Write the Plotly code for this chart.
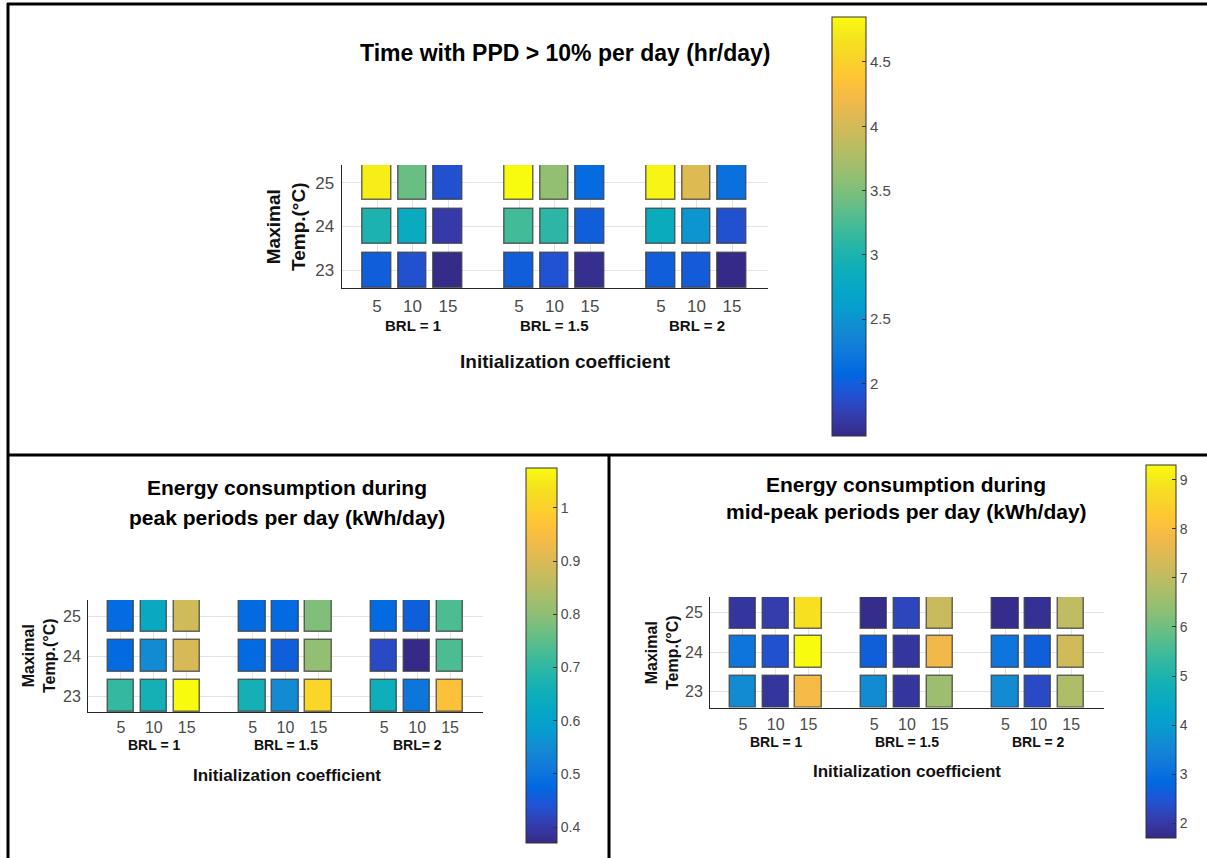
import plotly.graph_objects as go

W, H = 1207, 858

# ---------------- data ----------------
init_coeffs = ["5", "10", "15"]
max_temps = [23, 24, 25]
brl_labels_top = ["BRL = 1", "BRL = 1.5", "BRL = 2"]
brl_labels_peak = ["BRL = 1", "BRL = 1.5", "BRL= 2"]
brl_labels_mid = ["BRL = 1", "BRL = 1.5", "BRL = 2"]

# rows: temp 23, 24, 25 ; columns: (BRL1: 5,10,15), (BRL1.5: 5,10,15), (BRL2: 5,10,15)
ppd_t23 = [2.00, 1.90, 1.60, 2.00, 1.91, 1.63, 2.00, 1.98, 1.59]
ppd_t24 = [2.99, 2.80, 1.73, 3.22, 3.09, 2.00, 2.83, 2.52, 1.90]
ppd_t25 = [4.75, 3.40, 1.90, 4.85, 3.61, 2.11, 4.80, 4.07, 2.16]

peak_t23 = [0.706, 0.660, 1.075, 0.660, 0.550, 1.010, 0.650, 0.504, 0.962]
peak_t24 = [0.480, 0.550, 0.896, 0.480, 0.460, 0.807, 0.426, 0.370, 0.733]
peak_t25 = [0.482, 0.630, 0.885, 0.480, 0.480, 0.786, 0.480, 0.460, 0.733]

mid_t23 = [3.63, 1.93, 7.86, 3.63, 1.93, 6.53, 3.63, 2.30, 6.77]
mid_t24 = [3.14, 2.42, 9.30, 2.67, 1.93, 7.78, 3.14, 2.67, 7.25]
mid_t25 = [1.93, 2.08, 8.82, 1.75, 2.23, 7.13, 1.75, 1.82, 7.00]

ppd_range = [1.59, 4.85]
peak_range = [0.37, 1.075]
mid_range = [1.70, 9.30]

ppd_ticks = [2, 2.5, 3, 3.5, 4, 4.5]
peak_ticks = [0.4, 0.5, 0.6, 0.7, 0.8, 0.9, 1.0]
mid_ticks = [2, 3, 4, 5, 6, 7, 8, 9]

# parula colormap
parula_rgb = [
    (0.2081, 0.1663, 0.5292), (0.2081, 0.2386, 0.6771), (0.1253, 0.3242, 0.8303),
    (0.0060, 0.4086, 0.8828), (0.0629, 0.4737, 0.8554), (0.0749, 0.5375, 0.8263),
    (0.0265, 0.6137, 0.8135), (0.0228, 0.6535, 0.7768), (0.0590, 0.6838, 0.7254),
    (0.1453, 0.7098, 0.6646), (0.2586, 0.7317, 0.5954), (0.3953, 0.7459, 0.5244),
    (0.5300, 0.7491, 0.4661), (0.6473, 0.7456, 0.4188), (0.7525, 0.7384, 0.3768),
    (0.8507, 0.7299, 0.3360), (0.9450, 0.7261, 0.2886), (0.9990, 0.7653, 0.2164),
    (0.9789, 0.8271, 0.1633), (0.9589, 0.8949, 0.1132), (0.9763, 0.9831, 0.0538),
]
parula = [[i / (len(parula_rgb) - 1),
           "rgb(%d,%d,%d)" % tuple(round(c * 255) for c in rgb)] for i, rgb in enumerate(parula_rgb)]

FONT = "Liberation Sans, Arial, sans-serif"
TICK_COLOR = "#4a4a4a"


def px_x(px):
    return px / W


def px_y(py):
    return 1 - py / H


fig = go.Figure()

panels = [
    dict(rows=[ppd_t23, ppd_t24, ppd_t25], rng=ppd_range, ticks=ppd_ticks, brl=brl_labels_top,
         xdom=(341.5, 767.5), ydom=(165, 288), cb=(832, 17, 419, 34), tick_font=17, cb_font=15,
         standoff=3, brl_size=15,
         brl_y=325, init_y=361, init_x=565, init_size=19,
         title=[("Time with PPD > 10% per day (hr/day)", 565, 53)], title_size=23,
         ytitle=(286, 227), ytitle_size=19),
    dict(rows=[peak_t23, peak_t24, peak_t25], rng=peak_range, ticks=peak_ticks, brl=brl_labels_peak,
         xdom=(88, 483), ydom=(600, 712), cb=(526, 468, 375, 31), tick_font=16, cb_font=14,
         standoff=1, brl_size=14,
         brl_y=745, init_y=775, init_x=287, init_size=17,
         title=[("Energy consumption during", 287, 488), ("peak periods per day (kWh/day)", 287, 517)],
         title_size=21, ytitle=(39, 656), ytitle_size=16),
    dict(rows=[mid_t23, mid_t24, mid_t25], rng=mid_range, ticks=mid_ticks, brl=brl_labels_mid,
         xdom=(710, 1104), ydom=(597, 707.5), cb=(1146, 465, 373, 30), tick_font=16, cb_font=14,
         standoff=2, brl_size=14,
         brl_y=742, init_y=771, init_x=907, init_size=17,
         title=[("Energy consumption during", 906, 484), ("mid-peak periods per day (kWh/day)", 906, 511)],
         title_size=21, ytitle=(662, 653), ytitle_size=16),
]

annotations = []
layout_axes = {}

for k, p in enumerate(panels):
    sfx = "" if k == 0 else str(k + 1)
    xs, bases, vals = [], [], []
    for r, temp in enumerate(max_temps):
        for g in range(3):
            for c in range(3):
                xs.append(1 + 4 * g + c)
                bases.append(temp - 0.4)
                vals.append(p["rows"][r][3 * g + c])
    ca = "coloraxis" + sfx
    fig.add_trace(go.Bar(
        x=xs, y=[0.8] * len(xs), base=bases, width=0.8,
        marker=dict(color=vals, coloraxis=ca,
                    line=dict(color="rgba(60,60,60,0.75)", width=1.5)),
        xaxis="x" + sfx, yaxis="y" + sfx, showlegend=False,
        hovertemplate="%{marker.color}<extra></extra>",
    ))
    cbx, cby, cblen, cbth = p["cb"]
    layout_axes[ca] = dict(
        colorscale=parula, cmin=p["rng"][0], cmax=p["rng"][1],
        colorbar=dict(
            x=px_x(cbx), xanchor="left", y=px_y(cby), yanchor="top",
            len=cblen, lenmode="pixels", thickness=cbth, thicknessmode="pixels",
            xpad=0, ypad=0, outlinecolor="#333333", outlinewidth=1,
            tickvals=p["ticks"], ticks="inside", ticklen=4, tickcolor="#333333",
            tickfont=dict(family=FONT, size=p["cb_font"], color=TICK_COLOR),
        ),
    )
    tickpos = [1 + 4 * g + c for g in range(3) for c in range(3)]
    layout_axes["xaxis" + sfx] = dict(
        domain=[px_x(p["xdom"][0]), px_x(p["xdom"][1])], range=[0, 12],
        anchor="y" + sfx, tickvals=tickpos, ticktext=init_coeffs * 3,
        showgrid=True, gridcolor="#e3e3e3", gridwidth=1, zeroline=False,
        showline=True, linecolor="#262626", linewidth=1, ticks="",
        tickfont=dict(family=FONT, size=p["tick_font"], color=TICK_COLOR),
        ticklabelstandoff=p["standoff"], fixedrange=True,
    )
    layout_axes["yaxis" + sfx] = dict(
        domain=[px_y(p["ydom"][1]), px_y(p["ydom"][0])], range=[22.6, 25.4],
        anchor="x" + sfx, tickvals=max_temps,
        showgrid=True, gridcolor="#e3e3e3", gridwidth=1, zeroline=False,
        showline=True, linecolor="#262626", linewidth=1, ticks="",
        tickfont=dict(family=FONT, size=p["tick_font"], color=TICK_COLOR),
        ticklabelstandoff=3, fixedrange=True,
    )
    # BRL labels
    for g, lab in enumerate(p["brl"]):
        annotations.append(dict(
            text="<b>%s</b>" % lab, x=2 + 4 * g, xref="x" + sfx, y=px_y(p["brl_y"]), yref="paper",
            showarrow=False, xanchor="center", yanchor="middle",
            font=dict(family=FONT, size=p["brl_size"], color="#111111")))
    annotations.append(dict(
        text="<b>Initialization coefficient</b>", x=px_x(p["init_x"]), xref="paper",
        y=px_y(p["init_y"]), yref="paper", showarrow=False, xanchor="center", yanchor="middle",
        font=dict(family=FONT, size=p["init_size"], color="#111111")))
    for txt, tx, ty in p["title"]:
        annotations.append(dict(
            text="<b>%s</b>" % txt, x=px_x(tx), xref="paper", y=px_y(ty), yref="paper",
            showarrow=False, xanchor="center", yanchor="middle",
            font=dict(family=FONT, size=p["title_size"], color="#000000")))
    annotations.append(dict(
        text="<b>Maximal<br>Temp.(°C)</b>", x=px_x(p["ytitle"][0]), xref="paper",
        y=px_y(p["ytitle"][1]), yref="paper", showarrow=False, textangle=-90,
        xanchor="center", yanchor="middle",
        font=dict(family=FONT, size=p["ytitle_size"], color="#111111")))

border = dict(color="black", width=3)
shapes = [
    dict(type="line", xref="paper", yref="paper", x0=px_x(7), x1=1, y0=px_y(4), y1=px_y(4), line=border),
    dict(type="line", xref="paper", yref="paper", x0=px_x(8), x1=px_x(8), y0=px_y(3), y1=0, line=border),
    dict(type="line", xref="paper", yref="paper", x0=px_x(7), x1=1, y0=px_y(455), y1=px_y(455), line=border),
    dict(type="line", xref="paper", yref="paper", x0=px_x(609), x1=px_x(609), y0=px_y(455), y1=0, line=border),
]

fig.update_layout(
    width=W, height=H, margin=dict(l=0, r=0, t=0, b=0),
    paper_bgcolor="white", plot_bgcolor="white",
    barmode="overlay", bargap=0,
    annotations=annotations, shapes=shapes,
    font=dict(family=FONT),
    **layout_axes,
)

fig.write_html("out.html")
